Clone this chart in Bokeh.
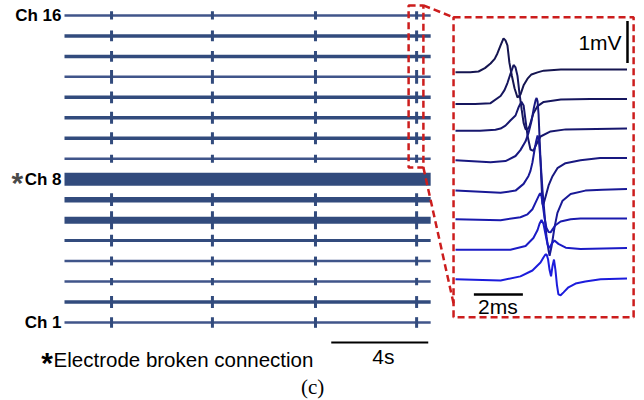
from bokeh.plotting import figure
from bokeh.models import Range1d, ColumnDataSource
from bokeh.embed import file_html
from bokeh.resources import INLINE
from bokeh.core.properties import value

# ------------------------------------------------------------------ data
channels = list(range(1, 17))
label_channels = [16, 8, 1]
label_texts = ["Ch 16", "Ch 8", "Ch 1"]
broken_channel = 8
spike_times_s = [1.94, 6.10, 10.35, 14.52]
record_start_s = 0.0
record_end_s = 15.1
# spike half-height per channel (in channel-spacing units), Ch1..Ch16
spike_amp = [0.26, 0.29, 0.18, 0.22, 0.29, 0.44, 0.31, 0.0,
             0.20, 0.29, 0.29, 0.29, 0.34, 0.26, 0.26, 0.20]
zoom_window_s = [14.19, 14.80]
zoom_window_ch = [8.57, 16.49]
scalebar_s = [11.0, 15.0]           # 4 s

# inset: 8 averaged waveforms (ms, mV relative to their own baseline)
t1 = [0, 0.6, 0.94, 1.2, 1.43, 1.6, 1.71, 1.84, 1.96, 2.04, 2.12, 2.20, 2.30, 2.41, 2.53, 2.65, 2.78, 2.94, 3.10, 3.35, 3.6, 4.3, 5.5, 7.0]
v1 = [-0.02, -0.02, 0.0, 0.08, 0.19, 0.30, 0.43, 0.62, 0.79, 0.74, 0.62, 0.21, -0.10, -0.40, -0.62, -0.55, -0.33, -0.17, -0.07, -0.02, 0.02, 0.05, 0.05, 0.05]
t2 = [0, 0.8, 1.43, 1.84, 2.0, 2.12, 2.24, 2.33, 2.37, 2.45, 2.53, 2.61, 2.70, 2.78, 2.86, 2.94, 3.02, 3.18, 3.35, 3.6, 4.3, 5.5, 7.0]
v2 = [-0.07, -0.07, -0.05, 0.12, 0.26, 0.43, 0.64, 0.79, 0.86, 0.80, 0.6, 0.19, -0.2, -0.52, -0.67, -0.67, -0.6, -0.29, -0.12, -0.02, 0.04, 0.05, 0.05]
t3 = [0, 1.0, 1.63, 1.84, 2.04, 2.24, 2.45, 2.57, 2.69, 2.78, 2.86, 2.94, 3.06, 3.18, 3.27, 3.47, 3.88, 4.5, 7.0]
v3 = [0, 0, 0.02, 0.05, 0.12, 0.24, 0.36, 0.55, 0.69, 0.60, 0.24, -0.12, -0.45, -0.48, -0.36, -0.14, -0.02, 0.03, 0.05]
t4 = [0, 1.43, 2.04, 2.45, 2.65, 2.86, 2.98, 3.10, 3.20, 3.27, 3.31, 3.35, 3.39, 3.43, 3.47, 3.51, 3.55, 3.59, 3.67, 3.80, 3.96, 4.16, 4.49, 5.1, 5.9, 7.0]
v4 = [0, -0.05, -0.02, 0.10, 0.24, 0.45, 0.65, 0.93, 1.25, 1.43, 1.48, 1.40, 1.10, 0.55, 0.0, -0.55, -1.05, -1.05, -0.88, -0.60, -0.38, -0.19, -0.07, 0.0, 0.05, 0.05]
t5 = [0, 1.84, 2.45, 2.78, 2.98, 3.06, 3.14, 3.22, 3.29, 3.35, 3.40, 3.47, 3.55, 3.63, 3.71, 3.80, 3.84, 3.92, 4.04, 4.16, 4.37, 4.7, 5.3, 6.0, 7.0]
v5 = [-0.02, -0.07, -0.02, 0.14, 0.33, 0.45, 0.65, 0.93, 1.15, 1.29, 1.2, 0.7, 0.0, -0.55, -1.1, -1.45, -1.57, -1.35, -0.90, -0.55, -0.26, -0.1, -0.02, 0.0, 0.02]
t6 = [0, 1.84, 2.65, 2.94, 3.14, 3.31, 3.43, 3.47, 3.51, 3.55, 3.63, 3.71, 3.80, 3.88, 3.96, 4.08, 4.29, 4.7, 5.1, 7.0]
v6 = [0, -0.02, 0.05, 0.12, 0.24, 0.45, 0.60, 0.62, 0.55, 0.40, 0.05, -0.2, -0.3, -0.31, -0.24, -0.14, -0.05, 0.0, 0.02, 0.02]
t7 = [0, 2.24, 2.86, 3.18, 3.35, 3.43, 3.51, 3.59, 3.67, 3.76, 3.84, 3.92, 4.04, 4.2, 4.5, 5.1, 7.0]
v7 = [-0.02, -0.02, 0.07, 0.26, 0.45, 0.6, 0.69, 0.6, 0.36, 0.1, 0.02, 0.12, 0.2, 0.12, 0.03, 0.0, 0.02]
t8 = [0, 1.84, 2.65, 3.14, 3.47, 3.59, 3.67, 3.72, 3.78, 3.84, 3.90, 3.96, 4.02, 4.08, 4.14, 4.20, 4.29, 4.41, 4.61, 4.9, 5.3, 5.92, 7.0]
v8 = [-0.02, -0.05, 0.05, 0.19, 0.38, 0.50, 0.57, 0.57, 0.45, 0.2, 0.05, 0.3, 0.45, 0.2, -0.15, -0.38, -0.40, -0.33, -0.21, -0.12, -0.07, -0.02, 0.0]
trace_spacing_mV = 0.704
inset_box_ms = [-0.08, 7.27]
inset_box_mV = [-5.85, 1.29]
inset_connector_mV = -5.52
scalebar_mV = [0.2, 1.2]            # 1 mV
scalebar_mV_x = 7.02
scalebar_ms = [0.75, 2.75]          # 2 ms
scalebar_ms_y = -5.31

# ------------------------------------------------------------------ styles
W, H = 644, 400
PX_S, X0 = 24.25, 64.0        # main panel: px per second, x of t=0
PX_CH, Y0 = 20.47, 78.0       # px per channel, y (from bottom) of Ch 1
PX_MS, XM0 = 24.5, 455.0      # inset: px per ms, x of t=0
PX_MV, YM0 = 42.0, 329.0      # px per mV, y (from bottom) of top trace baseline

LINE_COL = "#324b7d"
THIN_COL = "#40558a"
RED = "#cc1d1d"
widths = [2.5, 3.5, 2.5, 2.5, 3, 7, 5.5, 13, 2.5, 3.5, 3.5, 3.5, 2.5, 3.5, 3.5, 2.5]
trace_cols = ["#151550", "#16165e", "#17176e", "#181880",
              "#191996", "#1a1aae", "#1b1bc6", "#1c1cdc"]
SANS = value("Liberation Sans")

p = figure(width=W, height=H, output_backend="svg", toolbar_location=None,
           x_range=Range1d(-X0 / PX_S, (W - X0) / PX_S),
           y_range=Range1d(1 - Y0 / PX_CH, 1 + (H - Y0) / PX_CH),
           x_axis_type=None, y_axis_type=None, min_border=0)
p.extra_x_ranges = {"ms": Range1d(-XM0 / PX_MS, (W - XM0) / PX_MS)}
p.extra_y_ranges = {"mv": Range1d(-YM0 / PX_MV, (H - YM0) / PX_MV)}
p.outline_line_color = None
p.background_fill_color = "white"
p.border_fill_color = "white"

# channel traces
cols = [LINE_COL if w >= 3 else THIN_COL for w in widths]
src = ColumnDataSource(dict(x0=[record_start_s] * 16, x1=[record_end_s] * 16,
                            y=channels, w=widths, c=cols))
p.segment(x0="x0", y0="y", x1="x1", y1="y", line_width="w", line_color="c", source=src)

# spikes
sx, sy0, sy1 = [], [], []
for ch, a in zip(channels, spike_amp):
    if a <= 0:
        continue
    for t in spike_times_s:
        sx.append(t); sy0.append(ch - a); sy1.append(ch + a)
p.segment(x0=sx, y0=sy0, x1=sx, y1=sy1, line_width=3, line_color=LINE_COL)

# labels
p.text(x=[-0.124] * 3, y=label_channels, text=label_texts, text_font=SANS,
       text_font_style="bold", text_font_size=value("17px"), text_color="black",
       text_align="right", text_baseline="middle")
p.text(x=[-1.94], y=[broken_channel], text=["*"], text_font=SANS, text_font_style="bold",
       text_font_size=value("30px"), text_color="#4a4a4a", text_align="center",
       text_baseline="alphabetic", y_offset=3)

# zoom window and connectors
p.quad(left=[zoom_window_s[0]], right=[zoom_window_s[1]], bottom=[zoom_window_ch[0]],
       top=[zoom_window_ch[1]], fill_color=None, line_color=RED, line_width=2.5,
       line_dash="7 4")
p.quad(left=[inset_box_ms[0]], right=[inset_box_ms[1]], bottom=[inset_box_mV[0]],
       top=[inset_box_mV[1]], fill_color=None, line_color=RED, line_width=2.5,
       line_dash="7 4", x_range_name="ms", y_range_name="mv")


def inset_to_main(ms, mv):
    fx = XM0 + ms * PX_MS
    fy = YM0 + mv * PX_MV
    return (fx - X0) / PX_S, 1 + (fy - Y0) / PX_CH


c_top = inset_to_main(inset_box_ms[0], inset_box_mV[1])
c_bot = inset_to_main(inset_box_ms[0], inset_connector_mV)
p.segment(x0=[zoom_window_s[1], zoom_window_s[1]], y0=[zoom_window_ch[1], zoom_window_ch[0]],
          x1=[c_top[0], c_bot[0]], y1=[c_top[1], c_bot[1]],
          line_color=RED, line_width=2.5, line_dash="7 4")

# scale bar 4 s and texts
p.segment(x0=[scalebar_s[0]], y0=[0.02], x1=[scalebar_s[1]], y1=[0.02],
          line_color="black", line_width=2)
p.text(x=[13.15], y=[-0.66], text=["4s"], text_font=SANS, text_font_size=value("21px"),
       text_align="center", text_baseline="middle", text_color="black")
p.text(x=[-0.45], y=[-0.83], text=["Electrode broken connection"], text_font=SANS,
       text_font_size=value("20.5px"), text_align="left", text_baseline="middle",
       text_color="black")
p.text(x=[-0.72], y=[-0.76], text=["*"], text_font=SANS, text_font_style="bold",
       text_font_size=value("30px"), text_align="center", text_baseline="alphabetic",
       y_offset=4, text_color="black")
p.text(x=[10.23], y=[-2.175], text=["(c)"], text_font=value("Liberation Serif"),
       text_font_size=value("21px"), text_align="center", text_baseline="middle",
       text_color="black")

# inset traces
traces = [(t1, v1), (t2, v2), (t3, v3), (t4, v4), (t5, v5), (t6, v6), (t7, v7), (t8, v8)]
for k, (tt, vv) in enumerate(traces):
    p.line(tt, [v - k * trace_spacing_mV for v in vv], line_color=trace_cols[k],
           line_width=2, x_range_name="ms", y_range_name="mv")

# inset scale bars
p.segment(x0=[scalebar_mV_x], y0=[scalebar_mV[0]], x1=[scalebar_mV_x], y1=[scalebar_mV[1]],
          line_color="black", line_width=2.5, x_range_name="ms", y_range_name="mv")
p.segment(x0=[scalebar_ms[0]], y0=[scalebar_ms_y], x1=[scalebar_ms[1]], y1=[scalebar_ms_y],
          line_color="black", line_width=2.5, x_range_name="ms", y_range_name="mv")
p.text(x=[6.78], y=[0.70], text=["1mV"], text_font=SANS, text_font_size=value("21px"),
       text_align="right", text_baseline="middle", text_color="black",
       x_range_name="ms", y_range_name="mv")
p.text(x=[1.73], y=[-5.59], text=["2ms"], text_font=SANS, text_font_size=value("21px"),
       text_align="center", text_baseline="middle", text_color="black",
       x_range_name="ms", y_range_name="mv")

open("out.html", "w").write(file_html(p, INLINE))
